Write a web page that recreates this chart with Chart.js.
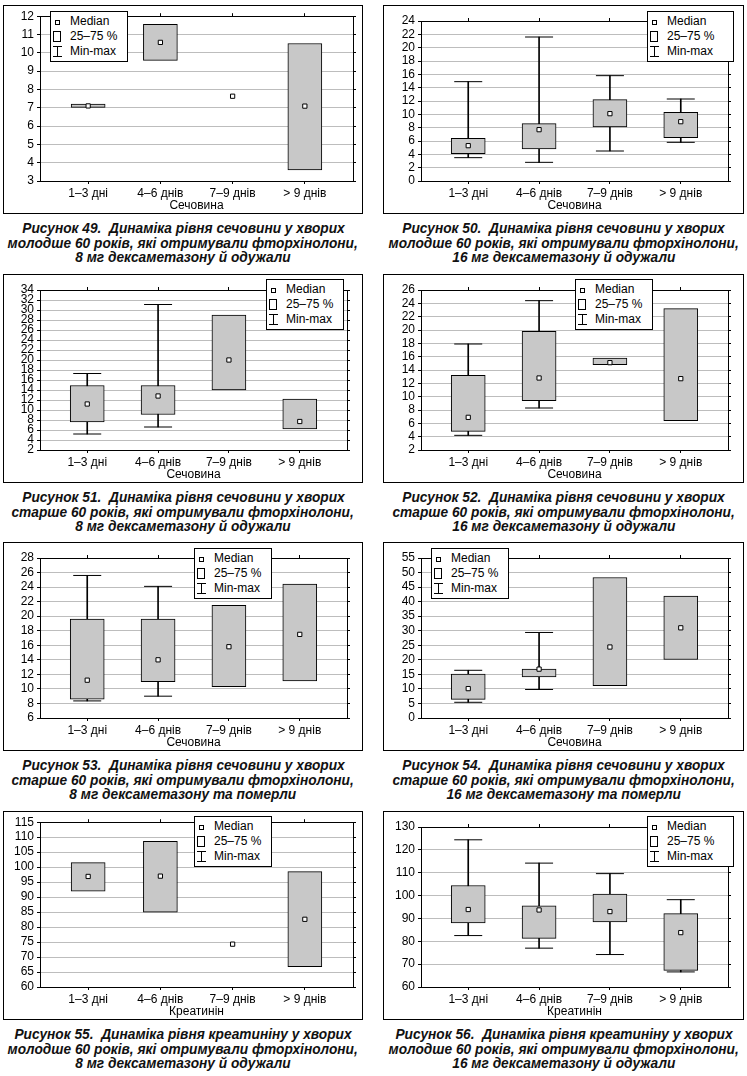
<!DOCTYPE html>
<html>
<head>
<meta charset="utf-8">
<script src="https://cdn.jsdelivr.net/npm/chart.js@4/dist/chart.umd.min.js"></script>
<style>
  html, body { margin:0; padding:0; background:#fff; }
  body { position:relative; width:747px; height:1076px; overflow:hidden; font-family:"Liberation Sans", Arial, sans-serif; color:#000; }
  .frame { position:absolute; border:1px solid #000; box-sizing:border-box; background:#fff; }
  .frame canvas { position:absolute; left:0; top:0; }
  .legend { position:absolute; box-sizing:border-box; height:51px; border:1px solid #000; background:#fff; padding-top:2px; font-size:12px; line-height:15px; }
  .legend .row { position:relative; height:15px; padding-left:19px; white-space:nowrap; }
  .legend .ic { position:absolute; box-sizing:border-box; }
  .ic-med { left:4px; top:6px; width:5px; height:5px; border:1px solid #000; background:#fff; }
  .ic-box { left:2px; top:2px; width:8px; height:11px; border:1px solid #000; background:#fff; }
  .ic-mm { left:2px; top:2px; width:9px; height:11px; border-top:1px solid #000; border-bottom:1px solid #000;
           background:linear-gradient(#000,#000) no-repeat 4px 0 / 1px 100%; }
  .cap { position:absolute; text-align:center; font-family:"Liberation Sans", Arial, sans-serif;
         font-weight:bold; font-style:italic; font-size:14px; line-height:14.5px; color:#111; white-space:nowrap; }
  .cap .ln { display:block; height:14.5px; }
  .cap .ln span { display:inline-block; transform:scaleX(0.98); transform-origin:50% 50%; }
</style>
</head>
<body>
<script>
// ---------- DATA ----------
const categories = ['1–3 дні', '4–6 днів', '7–9 днів', '> 9 днів'];

// Рисунок 49
const fig49_yTicks = [3, 4, 5, 6, 7, 8, 9, 10, 11, 12];
const fig49_min    = [null, null, null, null];
const fig49_q1     = [7.02, 9.59, null, 3.61];
const fig49_median = [7.1, 10.57, 7.63, 7.09];
const fig49_q3     = [7.2, 11.55, null, 10.51];
const fig49_max    = [null, null, null, null];

// Рисунок 50
const fig50_yTicks = [0, 2, 4, 6, 8, 10, 12, 14, 16, 18, 20, 22, 24];
const fig50_min    = [3.5, 2.8, 4.5, 5.8];
const fig50_q1     = [4.1, 4.8, 8.1, 6.5];
const fig50_median = [5.3, 7.7, 10.1, 8.9];
const fig50_q3     = [6.4, 8.6, 12.2, 10.3];
const fig50_max    = [14.9, 21.6, 15.8, 12.3];

// Рисунок 51
const fig51_yTicks = [2, 4, 6, 8, 10, 12, 14, 16, 18, 20, 22, 24, 26, 28, 30, 32, 34];
const fig51_min    = [5.2, 6.6, null, null];
const fig51_q1     = [7.6, 9.1, 14.0, 6.2];
const fig51_median = [11.2, 12.8, 20.0, 7.7];
const fig51_q3     = [14.9, 14.9, 29.0, 12.2];
const fig51_max    = [17.3, 31.1, null, null];

// Рисунок 52
const fig52_yTicks = [2, 4, 6, 8, 10, 12, 14, 16, 18, 20, 22, 24, 26];
const fig52_min    = [4.2, 8.3, null, null];
const fig52_q1     = [4.8, 9.4, 14.8, 6.4];
const fig52_median = [6.9, 12.8, 15.1, 12.7];
const fig52_q3     = [13.2, 19.8, 15.8, 23.2];
const fig52_max    = [17.9, 24.4, null, null];

// Рисунок 53
const fig53_yTicks = [6, 8, 10, 12, 14, 16, 18, 20, 22, 24, 26, 28];
const fig53_min    = [8.35, 9.0, null, null];
const fig53_q1     = [8.6, 11.0, 10.3, 11.1];
const fig53_median = [11.2, 14.0, 15.8, 17.5];
const fig53_q3     = [19.6, 19.6, 21.5, 24.4];
const fig53_max    = [25.6, 24.1, null, null];

// Рисунок 54
const fig54_yTicks = [0, 5, 10, 15, 20, 25, 30, 35, 40, 45, 50, 55];
const fig54_min    = [5.4, 9.8, null, null];
const fig54_q1     = [6.4, 14.1, 11.1, 20.1];
const fig54_median = [10.1, 16.8, 24.4, 31.0];
const fig54_q3     = [15.1, 16.8, 48.3, 41.9];
const fig54_max    = [16.4, 29.4, null, null];

// Рисунок 55
const fig55_yTicks = [60, 65, 70, 75, 80, 85, 90, 95, 100, 105, 110, 115];
const fig55_min    = [null, null, null, null];
const fig55_q1     = [92.0, 85.0, null, 66.8];
const fig55_median = [96.9, 97.0, 74.3, 82.6];
const fig55_q3     = [101.5, 108.6, null, 98.5];
const fig55_max    = [null, null, null, null];

// Рисунок 56
const fig56_yTicks = [60, 70, 80, 90, 100, 110, 120, 130];
const fig56_min    = [82.5, 77.0, 74.2, 66.6];
const fig56_q1     = [88.0, 81.3, 88.5, 67.3];
const fig56_median = [93.9, 93.7, 93.0, 83.8];
const fig56_q3     = [104.4, 95.5, 100.6, 92.1];
const fig56_max    = [124.4, 114.2, 109.6, 98.2];

const legendLabels = ['Median', '25–75 %', 'Min-max'];
const titleUrea = 'Сечовина';
const titleCreat = 'Креатинін';

// ---------- PANELS (layout + references to data) ----------
const panels = [
  { min:fig49_min, q1:fig49_q1, med:fig49_median, q3:fig49_q3, max:fig49_max, yTicks:fig49_yTicks, title:titleUrea, col:0, row:0, legend:[50, 11, 78],
    caption:['Рисунок 49.\u00a0 Динаміка рівня сечовини у хворих', 'молодше 60 років, які отримували фторхінолони,', '8 мг дексаметазону й одужали'] },
  { min:fig50_min, q1:fig50_q1, med:fig50_median, q3:fig50_q3, max:fig50_max, yTicks:fig50_yTicks, title:titleUrea, col:1, row:0, legend:[647, 11, 87],
    caption:['Рисунок 50.\u00a0 Динаміка рівня сечовини у хворих', 'молодше 60 років, які отримували фторхінолони,', '16 мг дексаметазону й одужали'] },
  { min:fig51_min, q1:fig51_q1, med:fig51_median, q3:fig51_q3, max:fig51_max, yTicks:fig51_yTicks, title:titleUrea, col:0, row:1, legend:[266, 279, 78],
    caption:['Рисунок 51.\u00a0 Динаміка рівня сечовини у хворих', 'старше 60 років, які отримували фторхінолони,', '8 мг дексаметазону й одужали'] },
  { min:fig52_min, q1:fig52_q1, med:fig52_median, q3:fig52_q3, max:fig52_max, yTicks:fig52_yTicks, title:titleUrea, col:1, row:1, legend:[575, 279, 78],
    caption:['Рисунок 52.\u00a0 Динаміка рівня сечовини у хворих', 'старше 60 років, які отримували фторхінолони,', '16 мг дексаметазону й одужали'] },
  { min:fig53_min, q1:fig53_q1, med:fig53_median, q3:fig53_q3, max:fig53_max, yTicks:fig53_yTicks, title:titleUrea, col:0, row:2, legend:[194, 548, 78],
    caption:['Рисунок 53.\u00a0 Динаміка рівня сечовини у хворих', 'старше 60 років, які отримували фторхінолони,', '8 мг дексаметазону та померли'] },
  { min:fig54_min, q1:fig54_q1, med:fig54_median, q3:fig54_q3, max:fig54_max, yTicks:fig54_yTicks, title:titleUrea, col:1, row:2, legend:[431, 548, 78],
    caption:['Рисунок 54.\u00a0 Динаміка рівня сечовини у хворих', 'старше 60 років, які отримували фторхінолони,', '16 мг дексаметазону та померли'] },
  { min:fig55_min, q1:fig55_q1, med:fig55_median, q3:fig55_q3, max:fig55_max, yTicks:fig55_yTicks, title:titleCreat, col:0, row:3, legend:[194, 816, 78],
    caption:['Рисунок 55.\u00a0 Динаміка рівня креатиніну у хворих', 'молодше 60 років, які отримували фторхінолони,', '8 мг дексаметазону й одужали'] },
  { min:fig56_min, q1:fig56_q1, med:fig56_median, q3:fig56_q3, max:fig56_max, yTicks:fig56_yTicks, title:titleCreat, col:1, row:3, legend:[647, 816, 87],
    caption:['Рисунок 56.\u00a0 Динаміка рівня креатиніну у хворих', 'молодше 60 років, які отримували фторхінолони,', '16 мг дексаметазону й одужали'] },
];

// frame geometry
const colLeft = [3, 383], colWidth = [360, 361];
const rowTop = [5, 274, 542, 811];
const frameH = 209;
// plot area inside canvas (canvas = frame inner)
const plotInset = [{ left:36, right:349 }, { left:37, right:350 }];
const plotTop = 9, plotBottom = 175;

Chart.defaults.font.family = '"Liberation Sans", Arial, sans-serif';
Chart.defaults.font.size = 12;
Chart.defaults.color = '#000';

const xPositions = categories.map((c, i) => i + 1);
const xMin = 1 - 2 / 3, xMax = categories.length + 2 / 3;

function setXTicks(scale) { scale.ticks = xPositions.map(v => ({ value: v })); }

panels.forEach(p => {
  const fl = colLeft[p.col], fw = colWidth[p.col], ft = rowTop[p.row];
  const frame = document.createElement('div');
  frame.className = 'frame';
  Object.assign(frame.style, { left: fl + 'px', top: ft + 'px', width: fw + 'px', height: frameH + 'px' });
  document.body.appendChild(frame);
  const cw = fw - 2, ch = frameH - 2;
  const canvas = document.createElement('canvas');
  canvas.width = cw; canvas.height = ch;
  canvas.style.width = cw + 'px'; canvas.style.height = ch + 'px';
  frame.appendChild(canvas);

  const ins = plotInset[p.col];
  const yMin = p.yTicks[0], yMax = p.yTicks[p.yTicks.length - 1];

  const whisk = [], caps = [], boxes = [], meds = [];
  xPositions.forEach((x, i) => {
    if (p.min[i] != null && p.max[i] != null) {
      whisk.push({ x, y: [p.min[i], p.max[i]] });
      caps.push({ x, y: p.min[i] }, { x, y: p.max[i] });
    }
    if (p.q1[i] != null && p.q3[i] != null) boxes.push({ x, y: [p.q1[i], p.q3[i]] });
    if (p.med[i] != null) meds.push({ x, y: p.med[i] });
  });

  const axisBorder = { display: true, color: '#000', width: 1 };

  new Chart(canvas, {
    type: 'bar',
    data: {
      datasets: [
        { type: 'bar', data: whisk, grouped: false, barThickness: 1, backgroundColor: '#000', borderWidth: 0, order: 4 },
        { type: 'bar', data: boxes, grouped: false, barThickness: 34, backgroundColor: '#c8c8c8', borderColor: '#000', borderWidth: 1, borderSkipped: false, order: 3 },
        { type: 'scatter', data: caps, pointStyle: 'line', pointRadius: 14, borderColor: '#000', borderWidth: 1, showLine: false, order: 2 },
        { type: 'scatter', data: meds, pointStyle: 'rect', pointRadius: 3, backgroundColor: '#fff', borderColor: '#000', borderWidth: 1, showLine: false, order: 1 },
      ]
    },
    options: {
      responsive: false,
      animation: false,
      events: [],
      layout: { padding: 0 },
      plugins: { legend: { display: false }, tooltip: { enabled: false } },
      scales: {
        x: {
          type: 'linear', position: 'bottom', min: xMin, max: xMax, offset: false,
          afterBuildTicks: setXTicks,
          afterFit: s => { s.height = ch - plotBottom; },
          ticks: { callback: v => categories[v - 1], autoSkip: false, maxRotation: 0, padding: 2, color: '#000', font: { size: 12 } },
          grid: { drawOnChartArea: false, drawTicks: true, tickLength: 3, tickColor: '#000', offset: false },
          border: axisBorder,
          title: { display: true, text: p.title, color: '#000', font: { size: 12 }, padding: { top: 0, bottom: 0 } }
        },
        xTop: {
          type: 'linear', position: 'top', min: xMin, max: xMax, offset: false,
          afterBuildTicks: setXTicks,
          afterFit: s => { s.height = plotTop; },
          ticks: { display: false },
          grid: { drawOnChartArea: false, drawTicks: true, tickLength: 3, tickColor: '#000', offset: false },
          border: axisBorder
        },
        y: {
          type: 'linear', position: 'left', min: yMin, max: yMax,
          afterBuildTicks: s => { s.ticks = p.yTicks.map(v => ({ value: v })); },
          afterFit: s => { s.width = ins.left; },
          ticks: { autoSkip: false, padding: 3, color: '#000', font: { size: 12 } },
          grid: { color: '#bdbdbd', lineWidth: 1, drawTicks: true, tickLength: 3, tickColor: '#000' },
          border: axisBorder
        },
        yRight: {
          type: 'linear', position: 'right', min: yMin, max: yMax,
          afterBuildTicks: s => { s.ticks = p.yTicks.map(v => ({ value: v })); },
          afterFit: s => { s.width = cw - ins.right; },
          ticks: { display: false },
          grid: { drawOnChartArea: false, drawTicks: true, tickLength: 3, tickColor: '#000' },
          border: axisBorder
        }
      }
    }
  });

  // legend box
  const lg = document.createElement('div');
  lg.className = 'legend';
  Object.assign(lg.style, { left: p.legend[0] + 'px', top: p.legend[1] + 'px', width: p.legend[2] + 'px' });
  const icons = ['ic-med', 'ic-box', 'ic-mm'];
  legendLabels.forEach((t, i) => {
    const r = document.createElement('div');
    r.className = 'row';
    const ic = document.createElement('span');
    ic.className = 'ic ' + icons[i];
    r.appendChild(ic);
    r.appendChild(document.createTextNode(t));
    lg.appendChild(r);
  });
  document.body.appendChild(lg);

  // caption
  const cap = document.createElement('div');
  cap.className = 'cap';
  Object.assign(cap.style, { left: fl + 'px', width: fw + 'px', top: (ft + frameH - 1 + 8) + 'px' });
  p.caption.forEach(s => {
    const ln = document.createElement('div');
    ln.className = 'ln';
    const sp = document.createElement('span');
    sp.textContent = s;
    ln.appendChild(sp);
    cap.appendChild(ln);
  });
  document.body.appendChild(cap);
});
</script>
</body>
</html>
